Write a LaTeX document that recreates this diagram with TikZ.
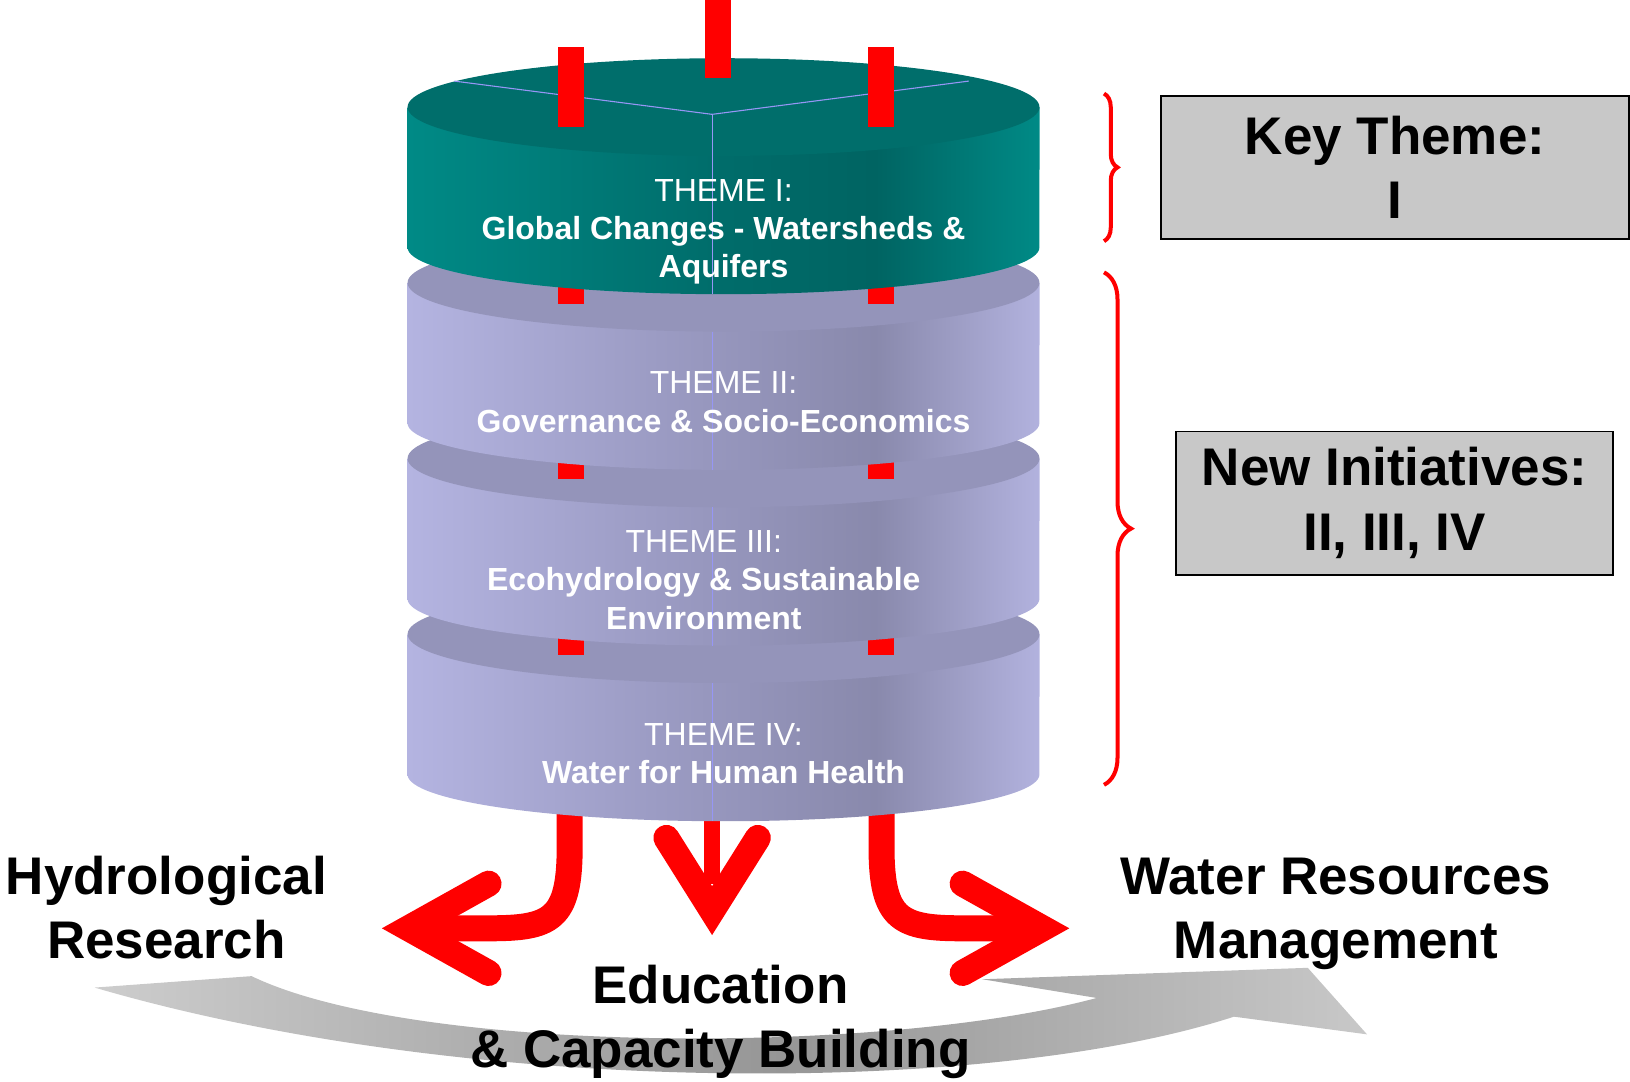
\documentclass[tikz,border=0pt]{standalone}
\usepackage{fontspec}
\setmainfont{Liberation Sans}
\usepackage{tikz}
\usetikzlibrary{decorations.pathreplacing}
\definecolor{tealtop}{RGB}{0,110,107}
\definecolor{tealedge}{RGB}{0,138,134}
\definecolor{tealmid}{RGB}{0,108,106}
\definecolor{tealdark}{RGB}{0,100,98}
\definecolor{lilactop}{RGB}{148,148,186}
\definecolor{lilacedge}{RGB}{180,180,225}
\definecolor{lilacmid}{RGB}{155,155,195}
\definecolor{lilacdark}{RGB}{137,137,172}
\definecolor{lilacright}{RGB}{178,178,222}
\definecolor{seam}{RGB}{150,150,245}
\definecolor{boxgray}{RGB}{200,200,200}
\definecolor{bandlight}{RGB}{205,205,205}
\definecolor{banddark}{RGB}{150,150,150}
\definecolor{bandright}{RGB}{200,200,200}
\pgfdeclarehorizontalshading{tealside}{100bp}{color(0bp)=(tealedge); color(25bp)=(tealedge); color(50bp)=(tealmid); color(62bp)=(tealdark); color(75bp)=(tealedge); color(100bp)=(tealedge)}
\pgfdeclarehorizontalshading{lilacside}{100bp}{color(0bp)=(lilacedge); color(25bp)=(lilacedge); color(45bp)=(lilacmid); color(62bp)=(lilacdark); color(75bp)=(lilacright); color(100bp)=(lilacright)}
\pgfdeclarehorizontalshading{grayband}{100bp}{color(0bp)=(bandlight); color(25bp)=(bandlight); color(52bp)=(banddark); color(75bp)=(bandright); color(100bp)=(bandright)}
\tikzstyle{themetext} = [text=white, align=center, font=\fontsize{17.5}{21}\selectfont]
\tikzstyle{keybox} = [rectangle, draw=black, line width=1pt, fill=boxgray, align=center, inner sep=0pt, minimum height=2.76cm, font=\fontsize{29}{35.3}\selectfont\bfseries]
\tikzstyle{outcome} = [align=center, font=\fontsize{29}{35.3}\selectfont\bfseries]
\tikzstyle{shaft} = [red, line width=0.5cm]
\tikzstyle{head} = [red, line width=0.5cm, line cap=round, line join=miter]
\tikzstyle{leg} = [fill=red]
\tikzstyle{seamline} = [seam, line width=0.6pt]
\tikzset{
	bracket/.style={red, line width=2.2pt, decorate, decoration={brace, amplitude=#1}},
}

\begin{document}
\begin{tikzpicture}[x=0.02cm, y=-0.02cm]
	\useasboundingbox (0,0) rectangle (1568,1040);
	
	% Gray band
	\shade[shading=grayband] (91,950) -- (242,939) .. controls (400,1015) and (850,1015) .. (1055,960)
		-- (945,942) -- (1258,931) -- (1315,995) -- (1187,978)
		.. controls (950,1055) and (450,1055) .. (91,950) -- cycle;
	
	% Red arrows
	\draw [shaft] (548,760) -- (548,815) .. controls (548,885) and (530,893) .. (470,893) -- (400,893);
	\draw [head] (470,850) -- (393,893) -- (470,936);
	\draw [shaft] (848,760) -- (848,815) .. controls (848,885) and (866,893) .. (926,893) -- (996,893);
	\draw [head] (926,850) -- (1003,893) -- (926,936);
	\draw [red, line width=0.32cm] (685,790) -- (685,850);
	\draw [head] (641,806) -- (685,876) -- (729,806);
	
	% Theme IV
	\shade[shading=lilacside] (392,610) -- (392,745) arc[start angle=180, end angle=360, x radius=6.08cm, y radius=0.9cm] -- (1000,610) -- cycle;
	\fill[lilactop] (696,610) ellipse[x radius=6.08cm, y radius=0.94cm];
	\draw[seamline] (685,657) -- (685,790);
	\fill[leg] (537,600) rectangle (562,630);
	\fill[leg] (835,600) rectangle (860,630);
	
	% Theme III
	\shade[shading=lilacside] (392,441) -- (392,576) arc[start angle=180, end angle=360, x radius=6.08cm, y radius=0.9cm] -- (1000,441) -- cycle;
	\fill[lilactop] (696,441) ellipse[x radius=6.08cm, y radius=0.94cm];
	\draw[seamline] (685,488) -- (685,621);
	\fill[leg] (537,431) rectangle (562,461);
	\fill[leg] (835,431) rectangle (860,461);
	
	% Theme II
	\shade[shading=lilacside] (392,272) -- (392,407) arc[start angle=180, end angle=360, x radius=6.08cm, y radius=0.9cm] -- (1000,272) -- cycle;
	\fill[lilactop] (696,272) ellipse[x radius=6.08cm, y radius=0.94cm];
	\draw[seamline] (685,319) -- (685,452);
	\fill[leg] (537,262) rectangle (562,292);
	\fill[leg] (835,262) rectangle (860,292);
	
	% Theme I
	\shade[shading=tealside] (392,103) -- (392,238) arc[start angle=180, end angle=360, x radius=6.08cm, y radius=0.9cm] -- (1000,103) -- cycle;
	\fill[tealtop] (696,103) ellipse[x radius=6.08cm, y radius=0.94cm];
	\draw[seamline] (437,78) -- (685,110) -- (932,78);
	\draw[seamline] (685,110) -- (685,283);
	\fill[leg] (537,45) rectangle (562,122);
	\fill[leg] (835,45) rectangle (860,122);
	\fill[leg] (678,0) rectangle (703,75);
	
	% Theme texts
	\node (themeI) [themetext] at (696,223) {THEME I:\\ \textbf{Global Changes - Watersheds \&}\\ \textbf{Aquifers}};
	\node (themeII) [themetext] at (696,387) {THEME II:\\ \textbf{Governance \& Socio-Economics}};
	\node (themeIII) [themetext] at (677,558) {THEME III:\\ \textbf{Ecohydrology \& Sustainable}\\ \textbf{Environment}};
	\node (themeIV) [themetext] at (696,725) {THEME IV:\\ \textbf{Water for Human Health}};
	
	% Braces and boxes
	\draw [bracket=0.26cm] (1062,90) -- (1062,232);
	\draw [bracket=0.52cm] (1062,262) -- (1062,755);
	\node (key) [keybox, minimum width=9cm] at (1342,161) {Key Theme:\\ I};
	\node (new) [keybox, minimum width=8.42cm] at (1341.5,484) {New Initiatives:\\ II, III, IV};
	
	% Outcomes
	\node (hydro) [outcome] at (160,873) {Hydrological\\ Research};
	\node (water) [outcome] at (1285,879) {Water Resources\\ Management};
	\node (edu) [outcome] at (693,983) {Education\\ \& Capacity Building};
	
\end{tikzpicture}
\end{document}
